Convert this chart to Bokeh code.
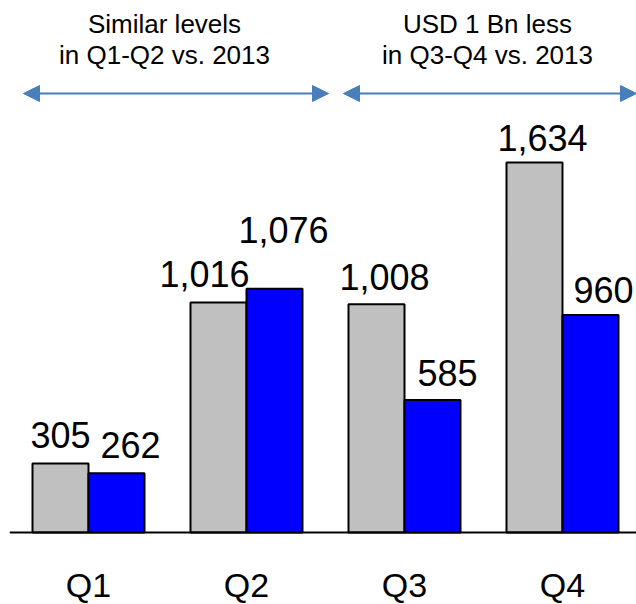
from bokeh.plotting import figure
from bokeh.models import (ColumnDataSource, Range1d, Arrow, NormalHead, Label, Span)
from bokeh.core.properties import value
from bokeh.embed import file_html
from bokeh.resources import INLINE
import numpy as np

# ---- data ----
quarters = ["Q1", "Q2", "Q3", "Q4"]
values_2013 = [305, 1016, 1008, 1634]
values_2014 = [262, 1076, 585, 960]
note_left = ["Similar levels", "in Q1-Q2 vs. 2013"]
note_right = ["USD 1 Bn less", "in Q3-Q4 vs. 2013"]

# ---- layout constants (pixels) ----
W, H = 636, 604
LEFT = 9
BASE_PX = 532.0          # px position of the zero line
FRAME_W = W - LEFT
UNIT_PX = 158.0          # px per category step
X0_PX = 88.0             # px position of first category centre
PX_PER_VAL = 370.0 / 1634.0
BAR_W = 56.0 / UNIT_PX
FONT = "Liberation Sans"
BASE_FIX = 0.34          # empirical baseline correction (fraction of font size)

x_start = -(X0_PX - LEFT) / UNIT_PX
x_end = x_start + FRAME_W / UNIT_PX
y_end = BASE_PX / PX_PER_VAL
y_start = -(H - BASE_PX) / PX_PER_VAL


def px_x(px):
    return (px - X0_PX) / UNIT_PX


def px_y(py):
    return (BASE_PX - py) / PX_PER_VAL


xs = np.arange(len(quarters), dtype=float)
off = BAR_W / 2

p = figure(width=W, height=H, output_backend="svg", toolbar_location=None,
           x_range=Range1d(x_start, x_end), y_range=Range1d(y_start, y_end),
           min_border_left=LEFT, min_border_right=0, min_border_top=0,
           min_border_bottom=0)
p.outline_line_color = None
p.grid.visible = False
p.xaxis.visible = False
p.yaxis.visible = False
p.background_fill_color = "white"
p.border_fill_color = "white"

src_a = ColumnDataSource(dict(x=xs - off, top=values_2013))
src_b = ColumnDataSource(dict(x=xs + off, top=values_2014))
p.vbar(x="x", top="top", bottom=0, width=BAR_W, source=src_a,
       fill_color="#C0C0C0", line_color="black", line_width=2)
p.vbar(x="x", top="top", bottom=0, width=BAR_W, source=src_b,
       fill_color="#0000FF", line_color="black", line_width=2)

# zero line
p.add_layout(Span(location=0, dimension="width", line_color="black", line_width=2))

# value labels (pixel nudges are style only)
VAL_FS = 36
fix = BASE_FIX * VAL_FS
dx_a = [0, -14, 8, 8]
dy_a = [-16, -16, -15, -12]
dx_b = [14, 9, 15, 13]
dy_b = [-16, -47, -15, -13]
lab = ColumnDataSource(dict(
    x=list(xs - off) + list(xs + off),
    y=values_2013 + values_2014,
    t=[f"{v:,}" for v in values_2013 + values_2014],
    dx=dx_a + dx_b, dy=[d - fix for d in dy_a + dy_b]))
p.text(x="x", y="y", text="t", x_offset="dx", y_offset="dy", source=lab,
       text_align="center", text_baseline="alphabetic",
       text_font=value(FONT), text_font_size=f"{VAL_FS}px",
       text_color="black")

# category labels
Q_FS = 34
for i, q in enumerate(quarters):
    p.add_layout(Label(x=float(xs[i]), y=px_y(596 - BASE_FIX * Q_FS), text=q,
                       text_align="center", text_baseline="alphabetic",
                       text_font=FONT, text_font_size=f"{Q_FS}px", text_color="black"))

# arrows
arrow_col = "#4A7EBB"
for a, b in [(23, 328), (343, 636)]:
    p.add_layout(Arrow(x_start=px_x(a), y_start=px_y(93), x_end=px_x(b), y_end=px_y(93),
                       line_color=arrow_col, line_width=2,
                       start=NormalHead(size=16, fill_color=arrow_col, line_color=arrow_col),
                       end=NormalHead(size=16, fill_color=arrow_col, line_color=arrow_col)))

N_FS = 26
for lines, cx in [(note_left, 164), (note_right, 487)]:
    for txt, by in zip(lines, [32, 63]):
        p.add_layout(Label(x=px_x(cx), y=px_y(by - BASE_FIX * N_FS), text=txt,
                           text_align="center", text_baseline="alphabetic",
                           text_font=FONT, text_font_size=f"{N_FS}px",
                           text_color="black"))

open("out.html", "w").write(file_html(p, INLINE))
